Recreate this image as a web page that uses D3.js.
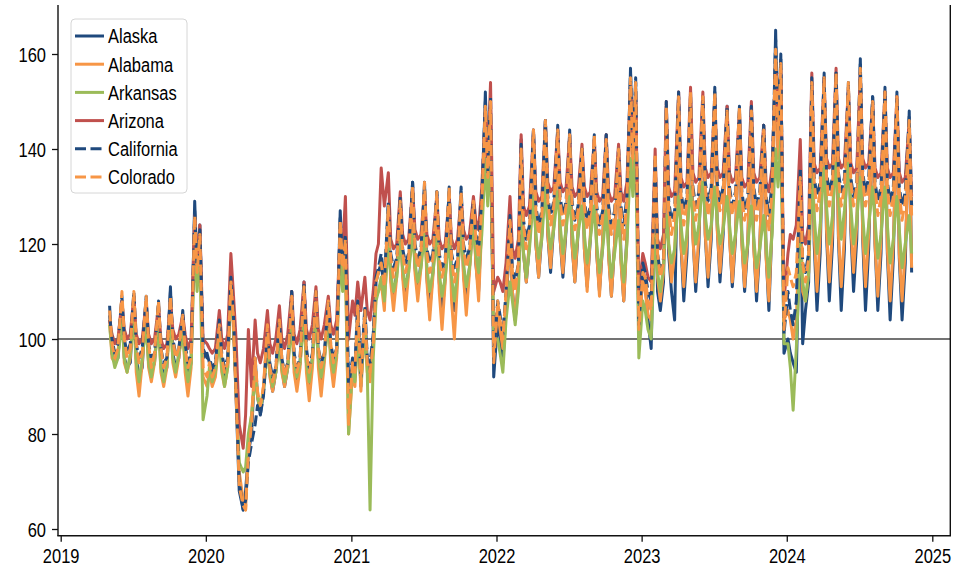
<!DOCTYPE html>
<html><head><meta charset="utf-8">
<script src="https://cdn.jsdelivr.net/npm/d3@7"></script>
<style>
body{margin:0;background:#fff}
svg text{font-family:"Liberation Sans",Arial,Helvetica,sans-serif;fill:#000}
</style>
</head><body>
<svg id="chart" width="973" height="569"></svg>
<script>
// ---------- data ----------
const seriesNames = ["Alaska","Alabama","Arkansas","Arizona","California","Colorado"];
const seriesColors = ["#1F497D","#F79646","#9BBB59","#C0504D","#1F497D","#F79646"];
const seriesDashed = [false,false,false,false,true,true];
const sampleDays = [4,10,17,25];          // sample days within each month
const firstMonth = [2019,4];               // May 2019
const lastMonthExcl = [2024,11];           // through Nov 2024
const lastDate = [2024,10,10];
const yTickValues = [60,80,100,120,140,160];
const xTickYears = [2019,2020,2021,2022,2023,2024,2025];
const refLine = 100;

const alaska = [
 107,97,95,96, 108,96,94,95, 109,96,92,94, 108,95,93,95, 107,95,92,94, 111,97,94,96, 106,96,92,95, 129,114,124,96,
 97,95,93,94, 104,95,92,95, 114,105,88,68, 64,68,76,80, 96,88,84,89, 102,93,89,93, 104,94,90,94, 110,95,91,95, 112,95,90,96, 110,96,91,96, 108,97,92,97, 127,114,120,88,
 95,92,106,90, 106,95,93,100, 112,114,116,110, 128,113,108,114, 129,114,108,115, 133,115,110,116, 133,113,106,114, 131,112,105,113, 132,112,106,114, 131,114,108,115, 129,116,110,126, 152,132,148,92,
 104,100,95,106, 124,110,104,112, 142,118,112,120, 144,120,113,122, 146,122,114,124, 145,121,113,123, 144,120,112,122, 140,119,111,121, 143,118,110,120, 143,118,109,120, 140,117,108,122, 157,136,154,100,
 115,112,104,98, 136,110,106,112, 149,118,110,104, 151,120,108,118, 152,122,110,120, 151,122,111,121, 153,124,112,122, 149,122,111,121, 149,121,110,120, 149,120,108,119, 145,118,106,124, 165,140,160,97,
 100,97,95,93, 130,99,106,112, 154,120,106,118, 156,122,108,120, 156,121,106,119, 154,123,110,121, 159,121,106,119, 151,120,106,118, 153,118,104,117, 152,117,104,116, 148,114
];
const california = [
 105,100,97,99, 109,100,97,99, 110,99,96,98, 109,99,96,97, 108,98,95,96, 110,100,97,98, 105,99,95,97, 127,115,123,98,
 96,96,94,95, 104,97,94,96, 113,106,90,70, 64,66,74,78, 82,86,84,88, 101,95,92,94, 104,96,93,95, 110,97,94,96, 112,98,94,97, 110,98,95,97, 108,99,96,98, 126,116,122,90,
 96,94,108,92, 107,96,95,101, 113,115,118,112, 129,118,115,117, 130,119,116,118, 133,120,117,119, 132,119,116,118, 131,118,115,117, 131,118,115,117, 132,120,117,119, 129,122,119,130, 150,135,151,96,
 108,105,101,110, 126,115,112,116, 141,125,121,124, 144,128,124,127, 146,130,126,129, 144,130,126,129, 143,129,125,128, 140,129,125,128, 142,128,124,127, 143,128,124,127, 140,128,124,130, 156,139,155,103,
 116,114,110,108, 138,118,114,117, 150,129,125,127, 152,131,127,130, 151,132,128,131, 150,133,129,132, 152,133,129,132, 149,132,128,131, 148,131,127,130, 149,132,128,131, 145,130,126,133, 163,144,159,101,
 110,106,103,108, 136,116,114,118, 155,134,130,133, 155,135,131,134, 156,135,131,134, 153,134,130,133, 158,135,131,134, 151,133,129,132, 152,133,129,132, 151,132,128,131, 147,128
];
const alabama = [
 104,96,95,97, 107,95,93,96, 108,93,88,95, 106,94,91,95, 105,93,90,94, 107,95,92,96, 103,93,88,94, 125,112,120,92,
 90,93,90,92, 101,93,90,94, 111,103,88,72, 66,64,78,84, 95,88,85,90, 101,92,89,93, 102,93,90,94, 107,93,89,94, 109,93,87,94, 108,94,88,95, 106,95,90,96, 124,113,118,80,
 93,90,104,89, 104,93,91,98, 109,110,112,106, 125,112,106,113, 126,113,106,114, 128,114,108,115, 128,112,104,113, 127,110,102,112, 127,108,100,112, 128,113,105,114, 126,116,108,124, 146,130,146,98,
 106,102,98,108, 122,110,104,113, 138,118,112,121, 140,120,113,123, 142,122,115,125, 141,121,114,124, 140,120,112,123, 137,119,110,122, 140,118,109,121, 139,117,109,120, 137,116,108,121, 152,135,150,104,
 112,110,105,104, 135,113,108,114, 146,120,112,118, 148,120,111,121, 149,121,112,122, 148,122,113,123, 149,123,114,124, 146,121,112,122, 145,120,111,121, 146,119,110,120, 142,117,108,124, 158,138,154,104,
 106,104,100,104, 128,110,108,114, 150,122,110,122, 151,123,112,123, 152,122,111,122, 150,124,114,124, 152,122,111,122, 147,120,109,121, 148,119,108,120, 147,118,108,119, 143,115
];
const colorado = [
 106,99,96,98, 110,100,96,98, 110,99,95,97, 109,99,94,97, 108,98,94,96, 109,100,96,98, 105,98,94,96, 126,114,122,94,
 92,95,92,94, 103,96,93,95, 112,105,89,69, 65,64,76,82, 96,89,86,90, 103,94,91,94, 104,96,92,95, 109,96,93,96, 111,97,93,96, 110,98,94,97, 108,99,95,98, 125,115,121,82,
 95,93,107,91, 106,95,93,99, 112,114,116,111, 128,117,113,116, 129,118,114,117, 132,119,115,118, 133,118,114,117, 131,117,113,116, 132,117,112,116, 131,119,115,118, 129,121,117,128, 149,134,150,95,
 108,104,100,110, 125,114,110,116, 140,124,119,123, 144,127,122,126, 146,129,124,128, 144,129,124,128, 143,128,123,127, 140,128,123,127, 143,127,122,126, 142,127,122,126, 140,127,121,129, 155,138,154,102,
 114,113,108,106, 139,118,113,116, 149,128,122,126, 151,130,124,129, 152,131,125,130, 151,132,126,131, 152,132,127,131, 148,131,126,130, 149,130,125,129, 148,131,125,130, 144,129,123,131, 161,142,158,102,
 115,113,111,114, 134,116,112,117, 154,133,127,131, 155,134,128,132, 156,134,128,132, 154,133,128,132, 157,134,128,132, 150,132,126,130, 152,132,126,130, 151,131,125,129, 146,126
];
const arkansas = [
 103,97,94,96, 104,96,93,97, 104,95,91,96, 103,95,92,96, 102,94,91,95, 104,96,93,97, 101,95,91,95, 120,110,118,83,
 88,94,91,93, 100,94,90,94, 110,104,90,74, 72,73,80,84, 92,88,85,89, 98,93,90,93, 99,94,91,94, 103,95,92,95, 104,95,91,96, 104,96,92,96, 103,97,93,97, 118,110,115,80,
 94,91,100,91, 102,93,64,96, 108,110,113,108, 120,114,110,113, 121,115,111,114, 122,116,112,115, 122,115,110,114, 121,114,109,113, 121,113,108,114, 123,116,111,115, 124,118,114,122, 138,128,140,100,
 100,97,93,104, 112,108,103,110, 126,118,113,119, 130,122,117,121, 132,124,119,123, 131,124,118,123, 130,123,117,122, 128,122,116,121, 128,120,114,119, 127,119,113,118, 125,118,112,120, 138,130,140,96,
 108,106,102,100, 122,114,110,115, 126,120,116,119, 130,124,118,122, 132,126,120,124, 133,126,121,124, 132,125,120,123, 130,124,118,122, 129,122,116,120, 128,121,115,119, 126,120,113,122, 140,132,142,99,
 99,94,85,98, 120,112,108,114, 134,126,118,124, 136,128,120,126, 137,130,121,127, 137,128,120,125, 134,126,118,124, 132,125,117,122, 132,124,116,121, 130,123,115,120, 126,118
];
const arizona = [
 104,101,99,100, 108,102,100,101, 109,101,99,100, 108,101,99,100, 107,100,98,99, 108,102,100,101, 105,101,98,100, 126,116,124,100,
 99,98,97,98, 106,100,98,101, 118,110,100,82, 77,84,102,90, 104,97,95,98, 106,99,97,100, 107,100,98,101, 110,101,99,102, 112,102,100,103, 111,102,100,103, 109,103,101,104, 123,118,130,100,
 108,105,112,106, 113,106,104,110, 118,120,136,128, 135,121,119,120, 131,122,120,121, 132,123,121,122, 131,122,120,121, 130,121,119,120, 130,121,119,121, 130,123,121,122, 130,125,123,132, 148,137,154,110,
 113,112,110,116, 130,119,117,121, 143,128,126,128, 144,131,129,130, 146,133,131,132, 144,133,131,132, 143,132,130,131, 141,132,130,131, 142,131,129,130, 143,131,129,130, 141,131,129,133, 154,141,152,110,
 118,116,113,112, 140,121,119,122, 150,132,130,131, 152,134,132,133, 153,135,133,134, 152,136,134,135, 151,136,134,135, 149,135,133,134, 148,134,132,133, 150,135,133,134, 145,133,131,136, 158,145,157,108,
 118,122,121,124, 142,122,120,124, 156,137,135,136, 155,138,136,137, 157,138,136,137, 153,137,135,136, 156,138,136,137, 150,136,134,135, 152,136,134,135, 151,135,133,134, 146,130
];
const seriesValues = [alaska, alabama, arkansas, arizona, california, colorado];

// ---------- dates (x categories) ----------
const dates = [];
const endD = new Date(lastDate[0], lastDate[1], lastDate[2]);
d3.timeMonth.range(new Date(firstMonth[0], firstMonth[1], 1), new Date(lastMonthExcl[0], lastMonthExcl[1], 1))
  .forEach(m => sampleDays.forEach(d => {
    const dt = new Date(m.getFullYear(), m.getMonth(), d);
    if (dt <= endD) dates.push(dt);
  }));

// ---------- layout ----------
const svg = d3.select("#chart");
const L = 58, R = 950.3, T = 5, B = 535.7;
const x = d3.scaleTime().domain([new Date(2019,0,1), new Date(2025,0,1)]).range([60.7, 932.3]);
const y = d3.scaleLinear().domain([60,160]).range([529,54]);
const FS = 16.5, SY = 1.2;

// reference line
svg.append("line").attr("x1", L).attr("x2", R).attr("y1", y(refLine)).attr("y2", y(refLine))
  .attr("stroke", "#444").attr("stroke-width", 1.5);

// series
const line = d3.line().defined(d => d[1] != null).x(d => x(d[0])).y(d => y(d[1])).curve(d3.curveLinear);
seriesValues.forEach((vals, i) => {
  const pts = dates.map((dt, k) => [dt, vals[k] == null ? null : vals[k]]);
  svg.append("path").datum(pts).attr("d", line)
    .attr("fill", "none").attr("stroke", seriesColors[i]).attr("stroke-width", 3)
    .attr("stroke-linejoin", "round")
    .attr("stroke-dasharray", seriesDashed[i] ? "11,4.5" : null);
});

// spines
const sp = svg.append("g").attr("stroke", "#111").attr("stroke-width", 1.4).attr("fill", "none");
sp.append("line").attr("x1", L).attr("x2", L).attr("y1", T).attr("y2", B);
sp.append("line").attr("x1", R).attr("x2", R).attr("y1", T).attr("y2", B);
sp.append("line").attr("x1", L - 0.7).attr("x2", R + 0.7).attr("y1", B).attr("y2", B);

// x axis
const xAxis = d3.axisBottom(x).tickValues(xTickYears.map(yr => new Date(yr,0,1)))
  .tickFormat(d3.timeFormat("%Y")).tickSize(6);
const gx = svg.append("g").attr("transform", `translate(0,${B})`).call(xAxis);
gx.select(".domain").remove();
gx.selectAll(".tick line").attr("stroke", "#111").attr("stroke-width", 1.3);
gx.selectAll(".tick text").attr("y", 0).attr("dy", 0).attr("font-size", FS)
  .attr("text-anchor", "middle").attr("transform", `translate(0,27.5) scale(1,${SY})`);

// y axis
const yAxis = d3.axisLeft(y).tickValues(yTickValues).tickSize(6);
const gy = svg.append("g").attr("transform", `translate(${L},0)`).call(yAxis);
gy.select(".domain").remove();
gy.selectAll(".tick line").attr("stroke", "#111").attr("stroke-width", 1.3);
gy.selectAll(".tick text").attr("x", 0).attr("dy", 0).attr("font-size", FS)
  .attr("text-anchor", "end").attr("transform", `translate(-12,7.2) scale(1,${SY})`);

// legend
const lg = svg.append("g");
lg.append("rect").attr("x", 71).attr("y", 19).attr("width", 116).attr("height", 174)
  .attr("rx", 4).attr("fill", "#fff").attr("fill-opacity", 0.85).attr("stroke", "#d6d6d6").attr("stroke-width", 1);
seriesNames.forEach((nm, i) => {
  const cy = 36 + i * 28.2;
  lg.append("line").attr("x1", 75).attr("x2", 104).attr("y1", cy).attr("y2", cy)
    .attr("stroke", seriesColors[i]).attr("stroke-width", 3)
    .attr("stroke-dasharray", seriesDashed[i] ? "11,4.5" : null);
  lg.append("text").attr("font-size", FS)
    .attr("transform", `translate(108,${cy + 7.3}) scale(1,${SY})`).text(nm);
});
</script>
</body></html>
